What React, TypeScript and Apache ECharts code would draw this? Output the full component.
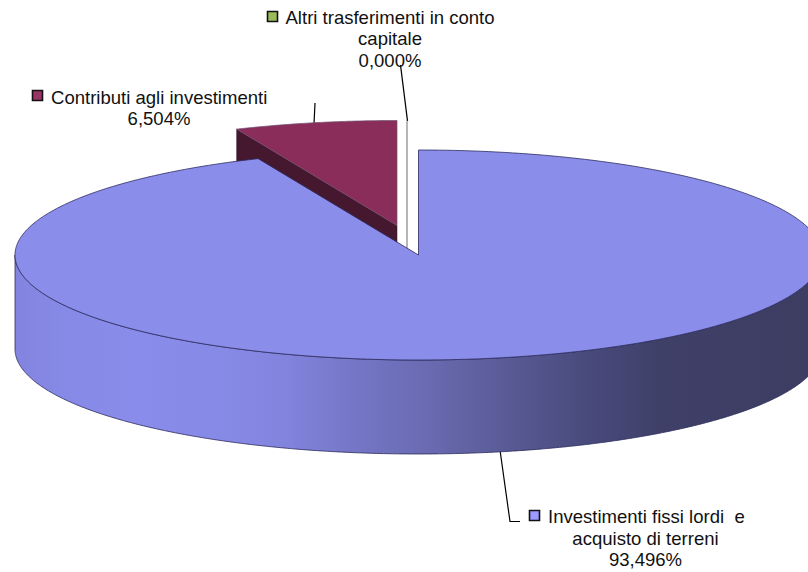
import React, { useEffect, useRef } from "react";
import * as echarts from "echarts";

// ---- data ----
const categories = ["Investimenti fissi lordi  e acquisto di terreni", "Contributi agli investimenti", "Altri trasferimenti in conto capitale"];
const sliceValues = [93.496, 6.504, 0.0];
const valueLabels = ["93,496%", "6,504%", "0,000%"];
const sliceColors = ["#8B8DEB", "#8B2D5B", "#A6C05A"];
const swatchColors = ["#9999FF", "#993366", "#9BBB59"];
const sideDarkColors = ["#3E3E66", "#45182F", "#FFFFFF"];
const paintOrder = [1, 2, 0];

// ---- layout ----
const CX = 418.5, CY = 255, RX = 403.5, RY = 105, DEPTH = 94;
const explodeX = [0, -21.5, -11.5];
const explodeY = [0, -29.5, -29.5];
const EDGE = "#2B2B5C";

const total = sliceValues.reduce((a, b) => a + b, 0);
const pt = (deg: number, ox: number, oy: number, dz = 0): number[] => {
  const r = (deg * Math.PI) / 180;
  return [CX + ox + RX * Math.sin(r), CY + oy - RY * Math.cos(r) + dz];
};
const arc = (a: number, b: number, ox: number, oy: number, dz = 0) => {
  const out: number[][] = [];
  const n = Math.max(1, Math.ceil(Math.abs(b - a) / 0.5));
  for (let i = 0; i <= n; i++) out.push(pt(a + ((b - a) * i) / n, ox, oy, dz));
  return out;
};

const sideGradient = {
  type: "linear", x: CX - RX, y: 0, x2: CX + RX, y2: 0, global: true,
  colorStops: [
    { offset: 0, color: "#8284DF" },
    { offset: 0.06, color: "#8789E6" },
    { offset: 0.15, color: "#8A8CEB" },
    { offset: 0.26, color: "#8789E6" },
    { offset: 0.34, color: "#8183DC" },
    { offset: 0.42, color: "#7576C6" },
    { offset: 0.5, color: "#6B6CB4" },
    { offset: 0.6, color: "#5B5C98" },
    { offset: 0.7, color: "#4A4B7E" },
    { offset: 0.8, color: "#3F4068" },
    { offset: 1, color: "#3D3D62" },
  ],
};

const renderSlice = (_: any, api: any) => {
  const idx = api.value(0);
  const start = (sliceValues.slice(0, idx).reduce((a, b) => a + b, 0) / total) * 360;
  const end = start + (sliceValues[idx] / total) * 360;
  const ox = explodeX[idx], oy = explodeY[idx];
  const apex = [CX + ox, CY + oy];
  const children: any[] = [];
  if (sliceValues[idx] === 0) {
    const top = pt(start, ox, oy);
    children.push({
      type: "line",
      shape: { x1: top[0], y1: top[1], x2: top[0], y2: apex[1] + DEPTH },
      style: { stroke: "#6F6F6F", lineWidth: 1 },
    });
    return { type: "group", children };
  }
  // outer wall (front half only)
  const a0 = Math.max(start, 90), a1 = Math.min(end, 270);
  if (a1 > a0) {
    const front = arc(a0, a1, ox, oy);
    const back = arc(a1, a0, ox, oy, DEPTH);
    children.push({
      type: "polygon",
      shape: { points: [...front, ...back] },
      style: { fill: sideGradient, stroke: EDGE, lineWidth: 0.8 },
    });
  }
  // cut face, only for the exploded wedge
  if (ox !== 0) {
    const p = pt(start, ox, oy);
    children.push({
      type: "polygon",
      shape: { points: [apex, p, [p[0], p[1] + DEPTH], [apex[0], apex[1] + DEPTH]] },
      style: { fill: sideDarkColors[idx], stroke: "#2A0E1E", lineWidth: 0.5 },
    });
  }
  // top face
  children.push({
    type: "polygon",
    shape: { points: [apex, ...arc(start, end, ox, oy)] },
    style: { fill: sliceColors[idx], stroke: ox !== 0 ? "#6F5070" : EDGE, lineWidth: ox !== 0 ? 0.7 : 0.8 },
  });
  return { type: "group", children };
};

const FONT = '"Liberation Sans", Arial, sans-serif';
const FS = 18.55;
const label = (text: string, x: number, y: number, align: string) => ({
  type: "text", x, y,
  style: { text, fill: "#111111", font: `${FS}px ${FONT}`, textAlign: align, textVerticalAlign: "middle" },
});
const swatch = (x: number, y: number, color: string) => ({
  type: "rect",
  shape: { x, y, width: 10, height: 10 },
  style: { fill: color, stroke: "#111111", lineWidth: 1.6 },
});
const leader = (points: number[][]) => ({
  type: "polyline",
  shape: { points },
  style: { stroke: "#000000", lineWidth: 1.2, fill: "none" },
});

export default function App() {
  const ref = useRef<HTMLDivElement>(null);
  useEffect(() => {
    document.body.style.margin = "0";
    const chart = echarts.init(ref.current!, undefined, { renderer: "svg" });
    chart.setOption({
      animation: false,
      backgroundColor: "#FFFFFF",
      series: [
        {
          type: "custom",
          coordinateSystem: "none",
          renderItem: renderSlice,
          data: paintOrder.map((i) => [i, sliceValues[i]]),
          silent: true,
          clip: false,
        },
      ],
      graphic: [
        leader([[400.5, 65], [407.5, 121]]),
        leader([[315, 103], [314, 124]]),
        leader([[500, 450], [510, 521.5], [520, 521.5]]),
        swatch(267.5, 11.5, swatchColors[2]),
        label("Altri trasferimenti in conto", 285.5, 17, "left"),
        label("capitale", 390, 38.5, "center"),
        label(valueLabels[2], 390, 60, "center"),
        swatch(32.5, 90.5, swatchColors[1]),
        label(categories[1], 51, 97, "left"),
        label(valueLabels[1], 159, 118, "center"),
        swatch(529.5, 510.5, swatchColors[0]),
        label("Investimenti fissi lordi  e", 548, 516, "left"),
        label("acquisto di terreni", 645.5, 538, "center"),
        label(valueLabels[0], 645.5, 559, "center"),
      ],
    });
    return () => chart.dispose();
  }, []);
  return <div ref={ref} style={{ width: 808, height: 572, overflow: "hidden" }} />;
}
